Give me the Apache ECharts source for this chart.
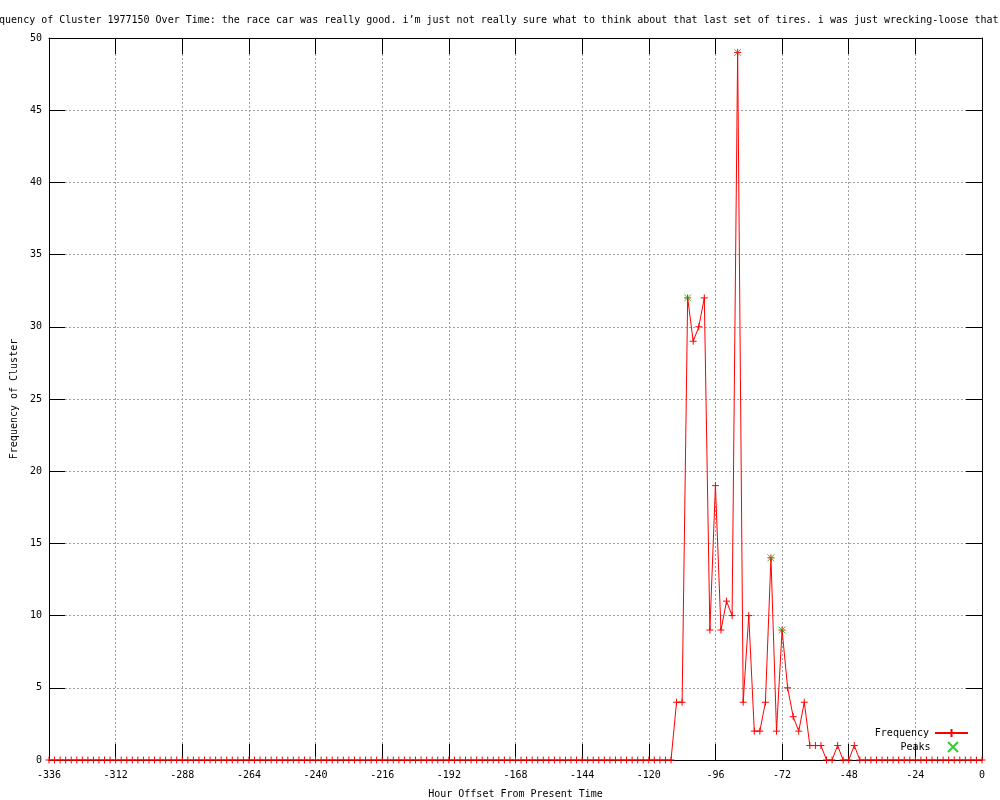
<!DOCTYPE html>
<html>
<head>
<meta charset="utf-8">
<script src="https://cdn.jsdelivr.net/npm/echarts@6/dist/echarts.min.js"></script>
<style>
  html, body { margin: 0; padding: 0; background: #fff; }
  #chart { width: 1000px; height: 800px; }
</style>
</head>
<body>
<div id="chart"></div>
<script>
// hour offsets (every 2 hours)
const hours = [
  -336, -334, -332, -330, -328, -326, -324, -322, -320, -318, -316, -314, -312,
  -310, -308, -306, -304, -302, -300, -298, -296, -294, -292, -290, -288,
  -286, -284, -282, -280, -278, -276, -274, -272, -270, -268, -266, -264,
  -262, -260, -258, -256, -254, -252, -250, -248, -246, -244, -242, -240,
  -238, -236, -234, -232, -230, -228, -226, -224, -222, -220, -218, -216,
  -214, -212, -210, -208, -206, -204, -202, -200, -198, -196, -194, -192,
  -190, -188, -186, -184, -182, -180, -178, -176, -174, -172, -170, -168,
  -166, -164, -162, -160, -158, -156, -154, -152, -150, -148, -146, -144,
  -142, -140, -138, -136, -134, -132, -130, -128, -126, -124, -122, -120,
  -118, -116, -114, -112, -110, -108, -106, -104, -102, -100, -98, -96,
  -94, -92, -90, -88, -86, -84, -82, -80, -78, -76, -74, -72,
  -70, -68, -66, -64, -62, -60, -58, -56, -54, -52, -50, -48,
  -46, -44, -42, -40, -38, -36, -34, -32, -30, -28, -26, -24,
  -22, -20, -18, -16, -14, -12, -10, -8, -6, -4, -2, 0
]

const frequency = [
  0, 0, 0, 0, 0, 0, 0, 0, 0, 0, 0, 0, 0,
  0, 0, 0, 0, 0, 0, 0, 0, 0, 0, 0, 0,
  0, 0, 0, 0, 0, 0, 0, 0, 0, 0, 0, 0,
  0, 0, 0, 0, 0, 0, 0, 0, 0, 0, 0, 0,
  0, 0, 0, 0, 0, 0, 0, 0, 0, 0, 0, 0,
  0, 0, 0, 0, 0, 0, 0, 0, 0, 0, 0, 0,
  0, 0, 0, 0, 0, 0, 0, 0, 0, 0, 0, 0,
  0, 0, 0, 0, 0, 0, 0, 0, 0, 0, 0, 0,
  0, 0, 0, 0, 0, 0, 0, 0, 0, 0, 0, 0,
  0, 0, 0, 0, 4, 4, 32, 29, 30, 32, 9, 19,
  9, 11, 10, 49, 4, 10, 2, 2, 4, 14, 2, 9,
  5, 3, 2, 4, 1, 1, 1, 0, 0, 1, 0, 0,
  1, 0, 0, 0, 0, 0, 0, 0, 0, 0, 0, 0,
  0, 0, 0, 0, 0, 0, 0, 0, 0, 0, 0, 0
]

const peakHours = [-106, -88, -76, -72]
const peakValues = [32, 49, 14, 9]

const titleText = 'Frequency of Cluster 1977150 Over Time: the race car was really good. i\u2019m just not really sure what to think about that last set of tires. i was just wrecking-loose that'

const FONT = 'DejaVu Sans Mono'
const CROSS = 'path://M0,-1L0,1M-1,0L1,0'
const XMARK = 'path://M-1,-1L1,1M-1,1L1,-1'

const chart = echarts.init(document.getElementById('chart'))

// gnuplot-like border with inward ticks on all four sides
const tickStyle = { show: true, inside: true, length: 16, lineStyle: { color: '#000' } }
const gridLine = { show: true, lineStyle: { color: '#a0a0a0', type: [2, 2] } }

const option = {
  animation: false,
  backgroundColor: '#fff',
  textStyle: { fontFamily: FONT, fontSize: 10, color: '#000' },
  title: {
    text: titleText,
    left: -19,
    top: 15,
    padding: 0,
    textStyle: { fontFamily: FONT, fontSize: 10, fontWeight: 'normal', color: '#000' }
  },
  grid: { left: 49, right: 18, top: 38, bottom: 40, containLabel: false, outerBoundsMode: 'none' },
  legend: [
    {
      data: ['Frequency'],
      right: 31, top: 728, padding: 0,
      align: 'right', itemWidth: 33, itemHeight: 10, itemGap: 6,
      textStyle: { fontFamily: FONT, fontSize: 10, color: '#000', padding: [0, 1, 0, 0] }
    },
    {
      data: ['Peaks'],
      right: 41, top: 741, padding: 0,
      align: 'right', itemWidth: 33, itemHeight: 10, itemGap: 6,
      textStyle: { fontFamily: FONT, fontSize: 10, color: '#000', padding: [0, 1, 0, 0] }
    }
  ],
  xAxis: [
    {
      type: 'value', position: 'bottom',
      min: -336, max: 0, interval: 24,
      name: 'Hour Offset From Present Time',
      nameLocation: 'middle', nameGap: 29,
      nameTextStyle: { fontFamily: FONT, fontSize: 10, color: '#000' },
      axisLine: { show: true, onZero: false, lineStyle: { color: '#000' } },
      axisTick: tickStyle,
      axisLabel: { margin: 10, fontFamily: FONT, fontSize: 10, color: '#000' },
      splitLine: gridLine
    },
    {
      type: 'value', position: 'top',
      min: -336, max: 0, interval: 24,
      axisLine: { show: true, onZero: false, lineStyle: { color: '#000' } },
      axisTick: tickStyle,
      axisLabel: { show: false },
      splitLine: { show: false }
    }
  ],
  yAxis: [
    {
      type: 'value', position: 'left',
      min: 0, max: 50, interval: 5,
      name: 'Frequency of Cluster',
      nameLocation: 'middle', nameGap: 30,
      nameTextStyle: { fontFamily: FONT, fontSize: 10, color: '#000' },
      axisLine: { show: true, onZero: false, lineStyle: { color: '#000' } },
      axisTick: tickStyle,
      axisLabel: { margin: 7, fontFamily: FONT, fontSize: 10, color: '#000' },
      splitLine: gridLine
    },
    {
      type: 'value', position: 'right',
      min: 0, max: 50, interval: 5,
      axisLine: { show: true, onZero: false, lineStyle: { color: '#000' } },
      axisTick: tickStyle,
      axisLabel: { show: false },
      splitLine: { show: false }
    }
  ],
  series: [
    {
      name: 'Frequency',
      type: 'line',
      xAxisIndex: 0, yAxisIndex: 0,
      data: hours.map((h, i) => [h, frequency[i]]),
      symbol: CROSS,
      symbolSize: 7,
      showAllSymbol: true,
      clip: false,
      lineStyle: { color: '#ff0000', width: 1 },
      itemStyle: { color: '#ff0000', borderColor: '#ff0000', borderWidth: 1 },
      z: 3
    },
    {
      name: 'Peaks',
      type: 'scatter',
      xAxisIndex: 0, yAxisIndex: 0,
      data: peakHours.map((h, i) => [h, peakValues[i]]),
      symbol: XMARK,
      symbolSize: 7,
      itemStyle: { color: '#00c000', borderColor: '#00c000', borderWidth: 1 },
      z: 4
    }
  ]
}

chart.setOption(option)
</script>
</body>
</html>
